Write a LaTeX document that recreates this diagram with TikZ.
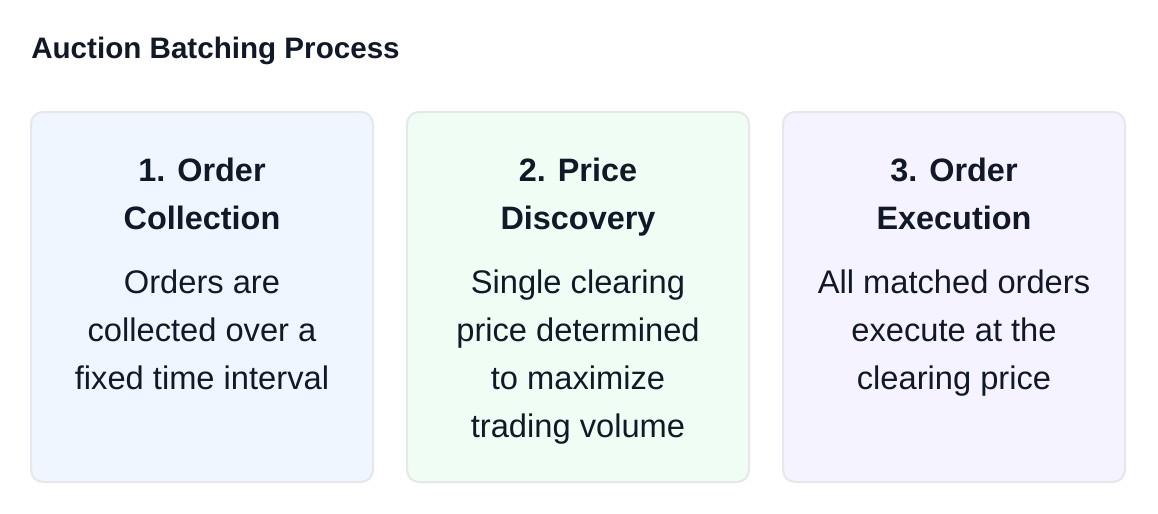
\documentclass[tikz,border=0pt]{standalone}
\usepackage{fontspec}
\setmainfont{Liberation Sans}
\definecolor{ink}{HTML}{111827}
\definecolor{edge}{HTML}{E5E7EB}
\definecolor{fillA}{HTML}{EFF6FF}
\definecolor{fillB}{HTML}{F0FDF4}
\definecolor{fillC}{HTML}{F5F3FF}
\tikzset{
  card/.style={draw=edge, line width=1.5pt, rounded corners=9pt},
  heading/.style={anchor=base, text=ink, font=\fontsize{24.3pt}{36pt}\selectfont\bfseries, inner sep=0pt},
  body/.style={anchor=base, text=ink, font=\fontsize{24.5pt}{36pt}\selectfont, inner sep=0pt},
  titletext/.style={anchor=base west, text=ink, font=\fontsize{22.2pt}{30pt}\selectfont\bfseries, inner sep=0pt}
}
\begin{document}
\begin{tikzpicture}[x=0.75pt,y=-0.75pt]
\useasboundingbox[fill=white] (0,0) rectangle (1158,514);
\node[titletext] (title) at (31,58) {Auction Batching Process};
% cards
\draw[card, fill=fillA] (31,112) rectangle (373,482);
\draw[card, fill=fillB] (407,112) rectangle (749,482);
\draw[card, fill=fillC] (783,112) rectangle (1125,482);
% card 1
\node[heading] (h1a) at (202,181) {1. Order};
\node[heading] (h1b) at (202,229) {Collection};
\node[body] (b1a) at (202,293) {Orders are};
\node[body] (b1b) at (202,341) {collected over a};
\node[body] (b1c) at (202,389) {fixed time interval};
% card 2
\node[heading] (h2a) at (578,181) {2. Price};
\node[heading] (h2b) at (578,229) {Discovery};
\node[body] (b2a) at (578,293) {Single clearing};
\node[body] (b2b) at (578,341) {price determined};
\node[body] (b2c) at (578,389) {to maximize};
\node[body] (b2d) at (578,437) {trading volume};
% card 3
\node[heading] (h3a) at (954,181) {3. Order};
\node[heading] (h3b) at (954,229) {Execution};
\node[body] (b3a) at (954,293) {All matched orders};
\node[body] (b3b) at (954,341) {execute at the};
\node[body] (b3c) at (954,389) {clearing price};
\end{tikzpicture}
\end{document}
